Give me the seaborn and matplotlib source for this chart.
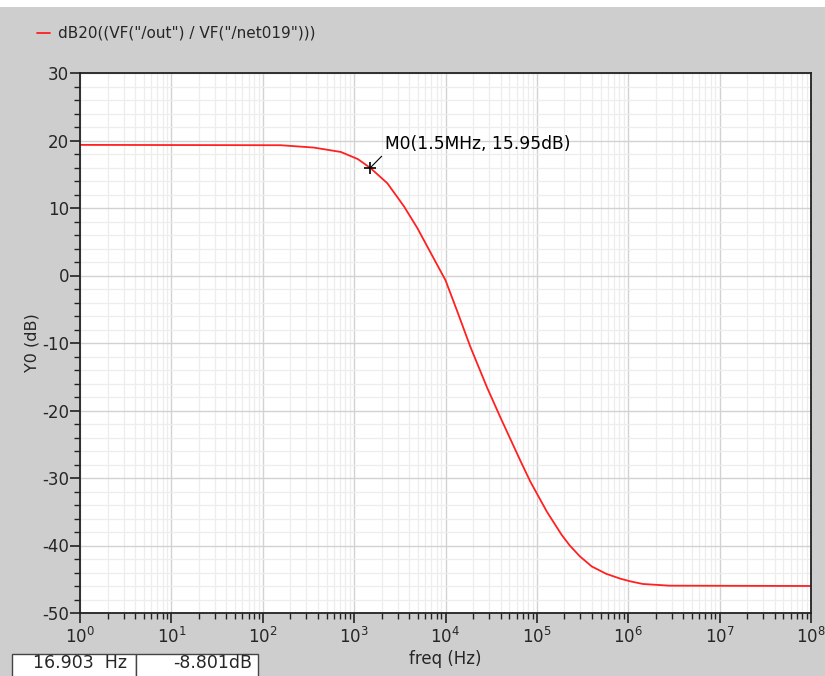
import numpy as np
import pandas as pd
import matplotlib
matplotlib.use('Agg')
import matplotlib.pyplot as plt
import seaborn as sns
from matplotlib.ticker import LogLocator, MultipleLocator
from matplotlib.patches import Rectangle
from matplotlib.lines import Line2D

# values (freq in Hz, gain in dB)
freq_hz = [1, 158, 363, 716, 1096, 1.5e3, 2312, 3508, 4898, 6855,
           1e4, 1.34e4, 1.875e4, 2.851e4, 3.981e4, 6.577e4, 8.453e4, 1e5,
           1.288e5, 1.862e5, 2.291e5, 2.951e5, 3.981e5, 5.754e5, 8.128e5,
           1.047e6, 1.445e6, 2.818e6, 1e8]
gain_db = [19.35, 19.3, 18.95, 18.3, 17.25, 15.95, 13.66, 10.25, 7.07, 3.41,
           -0.7, -5.25, -10.6, -16.6, -21.0, -27.4, -30.5, -32.3,
           -35.0, -38.4, -40.0, -41.6, -43.1, -44.2, -44.9,
           -45.3, -45.7, -45.95, -46.0]
trace_name = 'dB20((VF("/out") / VF("/net019")))'
marker_freq = 1.5e3
marker_db = 15.95
marker_label = 'M0(1.5MHz, 15.95dB)'
cursor_x = '16.903  Hz'
cursor_y = '-8.801dB'

df = pd.DataFrame({'freq': freq_hz, 'gain': gain_db})

sns.set_style('white')
plt.rcParams['font.family'] = ['DejaVu Sans']
plt.rcParams['axes.unicode_minus'] = False

bg = '#cecece'
fig = plt.figure(figsize=(8.25, 6.76), dpi=100, facecolor=bg)
ax = fig.add_axes([80 / 825, 1 - 613 / 676, 731 / 825, 540 / 676])
ax.set_facecolor('white')

sns.lineplot(data=df, x='freq', y='gain', ax=ax, color='#ff2020',
             linewidth=1.3, legend=False)
ax.set_xscale('log')
ax.set_xlim(1, 1e8)
ax.set_ylim(-50, 30)

# ticks and grid
ax.xaxis.set_major_locator(LogLocator(base=10, numticks=20))
ax.xaxis.set_minor_locator(LogLocator(base=10, subs=np.arange(2, 10), numticks=20))
ax.yaxis.set_major_locator(MultipleLocator(10))
ax.yaxis.set_minor_locator(MultipleLocator(2))
ax.grid(True, which='major', color='#d2d2d2', linewidth=1.0)
ax.grid(True, which='minor', color='#ededed', linewidth=0.9)
ax.set_axisbelow(True)
ax.tick_params(which='major', direction='out', length=7, width=1.2,
               color='#222222', labelsize=12, left=True, bottom=True)
ax.tick_params(which='minor', direction='out', length=4, width=1.0,
               color='#222222', left=True, bottom=True)
ax.tick_params(axis='x', which='major', pad=3)
ax.tick_params(axis='y', which='major', pad=1)
for s in ax.spines.values():
    s.set_color('#222222')
    s.set_linewidth(1.3)

ax.set_xlabel('freq (Hz)', fontsize=12, labelpad=2)
ax.set_ylabel('Y0 (dB)', fontsize=11.5, labelpad=2)

# marker M0
ax.plot([marker_freq], [marker_db], marker='+', color='black',
        markersize=8, markeredgewidth=1.2)
ax.annotate(marker_label, xy=(marker_freq, marker_db), xytext=(2.17e3, 18.15),
            fontsize=12.3, color='black', va='bottom', ha='left',
            arrowprops=dict(arrowstyle='-', color='black', lw=0.8,
                            shrinkA=0, shrinkB=0, relpos=(0, 0)))

# white strip at the top of the window
fig.add_artist(Rectangle((0, 1 - 7 / 676), 1, 7 / 676, transform=fig.transFigure,
                         facecolor='white', edgecolor='none'))

# legend entry above the plot
fig.add_artist(Line2D([37 / 825, 50 / 825], [1 - 33 / 676, 1 - 33 / 676],
                      transform=fig.transFigure, color='#ff2020', linewidth=1.3))
fig.text(58 / 825, 1 - 33 / 676, trace_name, fontsize=11, va='center', ha='left')

# cursor readout boxes
for x0, x1, pad, txt in [(12, 136, 9, cursor_x), (136, 258, 6, cursor_y)]:
    fig.add_artist(Rectangle((x0 / 825, -0.01), (x1 - x0) / 825, 22 / 676 + 0.01,
                             transform=fig.transFigure, facecolor='white',
                             edgecolor='#444444', linewidth=1.0))
    fig.text((x1 - pad) / 825, 1 - 663 / 676, txt, fontsize=12.5, ha='right', va='center')

fig.savefig('out.png', dpi=100, facecolor=bg)
